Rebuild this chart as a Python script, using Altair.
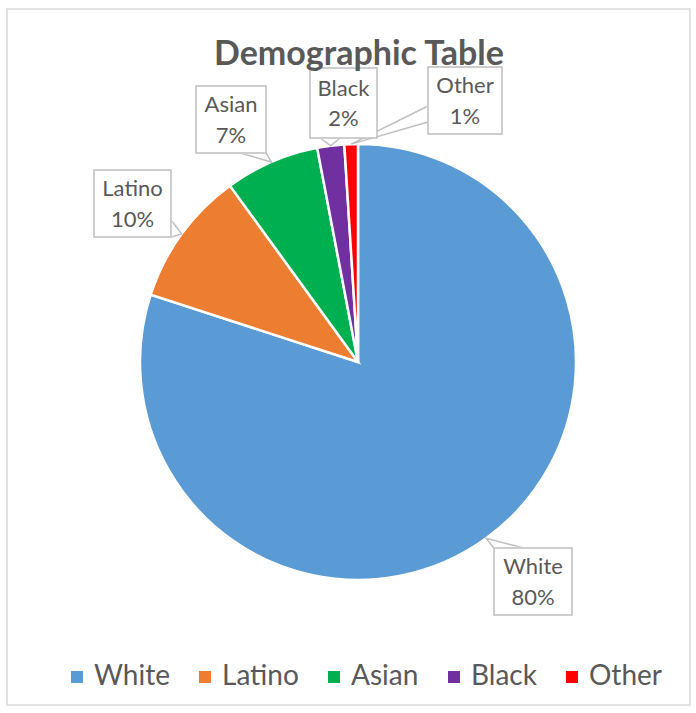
import math
import altair as alt
import pandas as pd

# ---------------- data ----------------
categories = ["White", "Latino", "Asian", "Black", "Other"]
values = [80, 10, 7, 2, 1]
pct_labels = ["80%", "10%", "7%", "2%", "1%"]
title_text = "Demographic Table"

# ---------------- style / layout ----------------
colors = ["#5B9BD5", "#ED7D31", "#00B050", "#7030A0", "#FF0000"]
TEXT = "#595959"
BORDER = "#BFBFBF"
FONT = "Lato"
OX, OY = 7, 9            # plot-area offset inside the 696x713 page
CX, CY, R = 358, 362, 218  # pie centre / radius (page px)

# label boxes (page px): x0, x1, y0, y1
boxes = {
    "White": (494, 572, 548, 615),
    "Latino": (94, 171, 170, 237),
    "Asian": (196, 266, 86, 153),
    "Black": (310, 377, 68, 138),
    "Other": (428, 502, 67, 134),
}
# callout wedge base points on the box edge
bases = {
    "White": ((494, 548), (524, 548)),
    "Latino": ((171, 220), (171, 237)),
    "Asian": ((240, 153), (266, 153)),
    "Black": ((320, 138), (340, 138)),
    "Other": ((428, 106), (428, 122)),
}

# ---------------- derived tables ----------------
total = sum(values)
pie_df = pd.DataFrame({"category": categories, "value": values,
                       "idx": list(range(len(categories)))})

tips = {}
cum = 0.0
for c, v in zip(categories, values):
    mid = (cum + v / 2) / total * 2 * math.pi
    tips[c] = (CX + R * math.sin(mid), CY - R * math.cos(mid))
    cum += v

rect_rows, line_rows, cover_rows, text_rows = [], [], [], []
for c, p in zip(categories, pct_labels):
    x0, x1, y0, y1 = boxes[c]
    rect_rows.append({"x": x0 - OX, "x2": x1 - OX, "y": y0 - OY, "y2": y1 - OY})
    (bx1, by1), (bx2, by2) = bases[c]
    tx, ty = tips[c]
    for k, (px, py) in enumerate([(bx1, by1), (tx, ty), (bx2, by2)]):
        line_rows.append({"cat": c, "o": k, "x": px - OX, "y": py - OY})
    cover_rows.append({"x": bx1 - OX, "x2": bx2 - OX, "y": by1 - OY, "y2": by2 - OY})
    xm = (x0 + x1) / 2 - OX
    ym = (y0 + y1) / 2 - OY
    text_rows.append({"t": c, "x": xm, "y": ym - 14.5})
    text_rows.append({"t": p, "x": xm, "y": ym + 16})

rect_df = pd.DataFrame(rect_rows)
line_df = pd.DataFrame(line_rows)
cover_df = pd.DataFrame(cover_rows)
text_df = pd.DataFrame(text_rows)
title_df = pd.DataFrame({"t": [title_text], "x": [359 - OX], "y": [65 - OY]})

W, H = 696 - OX - 6, 713 - OY - 8

pie = alt.Chart(pie_df).mark_arc(outerRadius=R, stroke="white", strokeWidth=2.5).encode(
    theta=alt.Theta("value:Q", stack=True),
    color=alt.Color(
        "category:N",
        sort=categories,
        scale=alt.Scale(domain=categories, range=colors),
        legend=alt.Legend(
            title=None, orient="none", direction="horizontal",
            legendX=63 - OX, legendY=663 - OY,
            symbolType="square", symbolSize=144, symbolStrokeWidth=0,
            symbolOpacity=1,
            labelFont=FONT, labelFontSize=28, labelColor=TEXT,
            labelOffset=3, columnPadding=21,
        ),
    ),
    order=alt.Order("idx:Q"),
    x=alt.value(CX - OX),
    y=alt.value(CY - OY),
)

xs = lambda f: alt.X(f, type="quantitative", scale=None, axis=None)
ys = lambda f: alt.Y(f, type="quantitative", scale=None, axis=None)

rects = alt.Chart(rect_df).mark_rect(fill="white", stroke=BORDER, strokeWidth=1.5).encode(
    x=xs("x"), x2="x2", y=ys("y"), y2="y2"
)
covers = alt.Chart(cover_df).mark_rule(color="white", strokeWidth=2.5).encode(
    x=xs("x"), x2="x2", y=ys("y"), y2="y2"
)
wedges = alt.Chart(line_df).mark_line(color=BORDER, strokeWidth=1.5).encode(
    x=xs("x"), y=ys("y"), detail="cat:N", order="o:Q"
)
texts = alt.Chart(text_df).mark_text(
    font=FONT, fontSize=22, color=TEXT, baseline="middle", align="center"
).encode(x=xs("x"), y=ys("y"), text="t:N")
title = alt.Chart(title_df).mark_text(
    font=FONT, fontSize=34, fontWeight="bold", color=TEXT, baseline="alphabetic", align="center"
).encode(x=xs("x"), y=ys("y"), text="t:N")

chart = alt.layer(pie, wedges, covers, rects, texts, title).properties(
    width=W, height=H,
    padding={"left": OX, "top": OY, "right": 6, "bottom": 8},
    autosize=alt.AutoSizeParams(type="none"),
    background="white",
).configure_view(stroke="#D9D9D9", strokeWidth=1.5)

chart.save("out.html", embed_options={"renderer": "svg", "actions": False})
